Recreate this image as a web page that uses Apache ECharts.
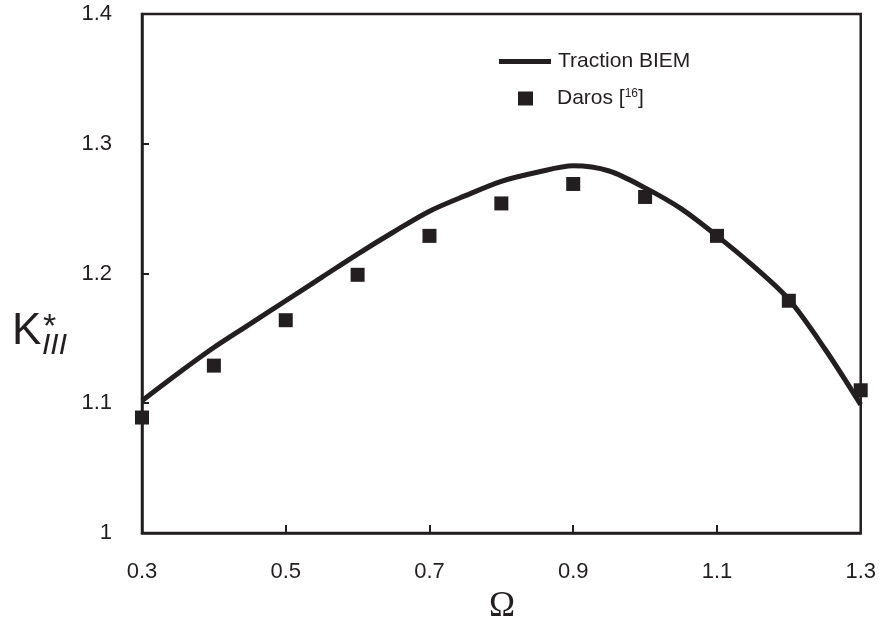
<!DOCTYPE html>
<html>
<head>
<meta charset="utf-8">
<script src="https://cdn.jsdelivr.net/npm/echarts@6/dist/echarts.min.js"></script>
<style>
html,body{margin:0;padding:0;background:#fff;}
#chart{width:879px;height:626px;}
</style>
</head>
<body>
<div id="chart"></div>
<script>
// Traction BIEM curve
var curveX = [0.3,0.35,0.4,0.45,0.5,0.55,0.6,0.65,0.7,0.75,0.8,0.85,0.9,0.95,1.0,1.05,1.1,1.15,1.2,1.25,1.3];
var curveY = [1.102,1.123,1.143,1.161,1.179,1.197,1.215,1.232,1.248,1.260,1.271,1.278,1.283,1.279,1.266,1.250,1.229,1.206,1.180,1.142,1.099];
// Daros [16] points
var darosX = [0.3,0.4,0.5,0.6,0.7,0.8,0.9,1.0,1.1,1.2,1.3];
var darosY = [1.089,1.129,1.164,1.199,1.229,1.254,1.269,1.259,1.229,1.179,1.110];
// tick labels
var xLabels = [0.3,0.5,0.7,0.9,1.1,1.3];
var xTicks = [0.5,0.7,0.9,1.1];

var INK = '#231f20';
var FONT = '"Liberation Sans", Arial, sans-serif';

var chart = echarts.init(document.getElementById('chart'));
chart.setOption({
  animation: false,
  backgroundColor: '#fff',
  grid: {left:142, right:17, top:14, bottom:93, show:true, borderColor:INK, borderWidth:2.5, backgroundColor:'transparent'},
  xAxis: {
    type:'value', min:0.3, max:1.3,
    axisLine:{show:true, lineStyle:{color:INK, width:2.5}},
    axisTick:{show:true, inside:true, length:8, customValues:xTicks, lineStyle:{color:INK, width:2}},
    axisLabel:{customValues:xLabels, margin:28, color:INK, fontSize:22, fontFamily:FONT,
      formatter:function(v){return Number(v).toFixed(1);}},
    splitLine:{show:false}
  },
  yAxis: {
    type:'value', min:1, max:1.4, interval:0.1,
    axisLine:{show:true, lineStyle:{color:INK, width:2.5}},
    axisTick:{show:true, inside:true, length:7, lineStyle:{color:INK, width:2}},
    axisLabel:{margin:30, color:INK, fontSize:22, fontFamily:FONT,
      formatter:function(v){return String(Math.round(v*10)/10);}},
    splitLine:{show:false}
  },
  legend: [
    {data:['Traction BIEM'], left:499, top:51, itemWidth:52, itemHeight:5, icon:'rect', itemGap:0, padding:0,
     itemStyle:{color:INK, opacity:1},
     textStyle:{color:INK, fontSize:21, fontFamily:FONT, padding:[0,0,0,2]}},
    {data:['Daros'], left:518, top:88, itemWidth:15, itemHeight:14, icon:'rect', padding:0,
     itemStyle:{color:INK, opacity:1},
     formatter:function(){return 'Daros [{s|16}]';},
     textStyle:{color:INK, fontSize:21, fontFamily:FONT, padding:[0,0,0,19],
       rich:{s:{fontSize:12, fontFamily:FONT, color:INK, verticalAlign:'top', padding:[0,0,9,0]}}}}
  ],
  series: [
    {name:'Traction BIEM', type:'line', data:curveX.map(function(x,i){return [x,curveY[i]];}),
     smooth:0.3, symbol:'none', lineStyle:{color:INK, width:5}, itemStyle:{color:INK}, z:2},
    {name:'Daros', type:'scatter', data:darosX.map(function(x,i){return [x,darosY[i]];}),
     symbol:'rect', symbolSize:14, itemStyle:{color:INK, opacity:1}, z:3}
  ],
  graphic: [
    {type:'text', left:12, top:310, style:{text:'K', font:'44px '+FONT, fill:INK}},
    {type:'text', left:43, top:311, style:{text:'*', font:'34px '+FONT, fill:INK}},
    {type:'text', left:42, top:331, style:{text:'III', font:'italic 30px '+FONT, fill:INK}},
    {type:'text', left:489, top:589, style:{text:'Ω', font:'35px "Liberation Serif", "DejaVu Serif", serif', fill:INK}}
  ]
});
</script>
</body>
</html>
